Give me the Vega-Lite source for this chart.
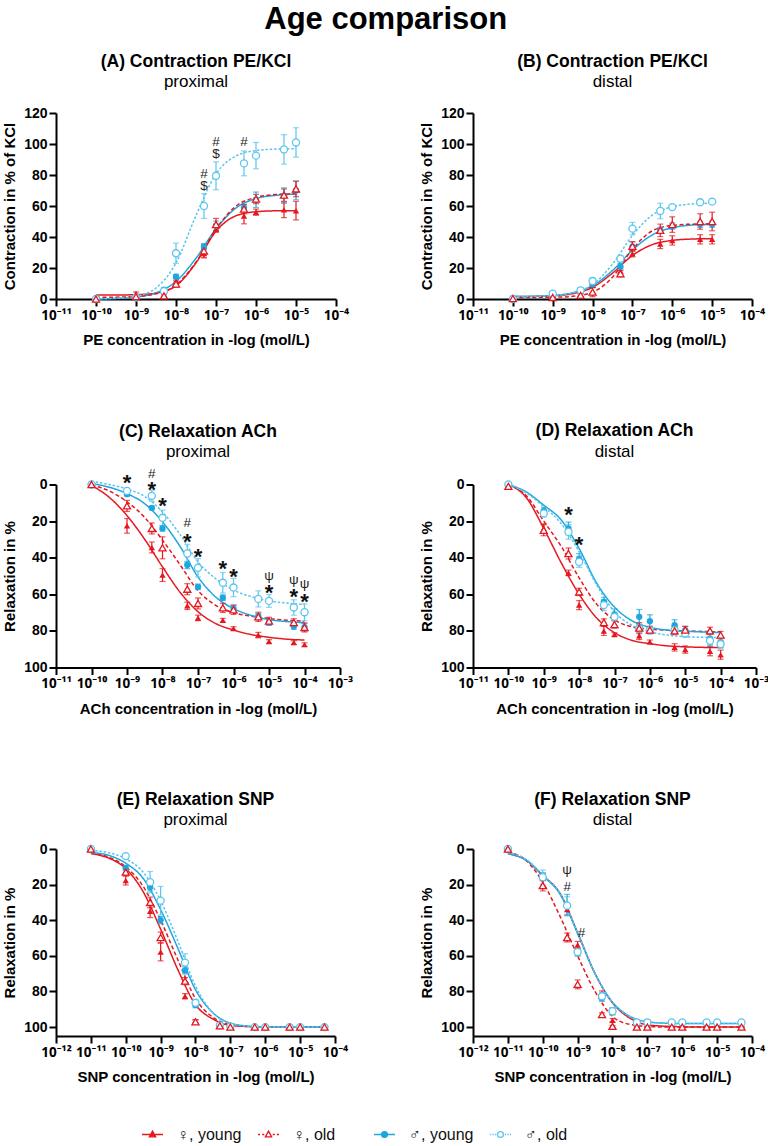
{
  "$schema": "https://vega.github.io/schema/vega-lite/v6.json",
  "padding": {"left": 2, "top": 4, "right": 0, "bottom": 2},
  "title": {"text": "Age comparison", "fontSize": 31, "fontWeight": "bold", "anchor": "middle", "frame": "bounds", "offset": 16.5, "color": "#000", "subtitle": ""},
  "spacing": 39,
  "resolve": {"scale": {"shape": "independent", "fill": "independent", "stroke": "independent", "x": "independent"}},
  "datasets": {
    "pts": [
      {"p":"A","g":"fy","c":1e-10,"v":0,"e":0.5},{"p":"A","g":"fy","c":1e-9,"v":3.5,"e":1},{"p":"A","g":"fy","c":5e-9,"v":3,"e":2},{"p":"A","g":"fy","c":1e-8,"v":11.5,"e":2},{"p":"A","g":"fy","c":5e-8,"v":29.5,"e":3},{"p":"A","g":"fy","c":1e-7,"v":45,"e":2},{"p":"A","g":"fy","c":5e-7,"v":53.5,"e":5},{"p":"A","g":"fy","c":1e-6,"v":56,"e":2},{"p":"A","g":"fy","c":5e-6,"v":57.5,"e":5},{"p":"A","g":"fy","c":1e-5,"v":57,"e":6},
      {"p":"A","g":"my","c":1e-10,"v":0,"e":0.5},{"p":"A","g":"my","c":1e-9,"v":1,"e":0.5},{"p":"A","g":"my","c":5e-9,"v":6,"e":1},{"p":"A","g":"my","c":1e-8,"v":14.4,"e":1.5},{"p":"A","g":"my","c":5e-8,"v":33.8,"e":2},{"p":"A","g":"my","c":1e-7,"v":47.3,"e":3},{"p":"A","g":"my","c":5e-7,"v":59,"e":2},{"p":"A","g":"my","c":1e-6,"v":64,"e":5},{"p":"A","g":"my","c":5e-6,"v":66.7,"e":5},{"p":"A","g":"my","c":1e-5,"v":70,"e":6},
      {"p":"A","g":"mo","c":1e-10,"v":0,"e":0.5},{"p":"A","g":"mo","c":1e-9,"v":1,"e":1},{"p":"A","g":"mo","c":5e-9,"v":5,"e":1.5},{"p":"A","g":"mo","c":1e-8,"v":29.5,"e":6.5},{"p":"A","g":"mo","c":5e-8,"v":60,"e":8},{"p":"A","g":"mo","c":1e-7,"v":79.5,"e":9},{"p":"A","g":"mo","c":5e-7,"v":87.5,"e":8},{"p":"A","g":"mo","c":1e-6,"v":92.5,"e":8.5},{"p":"A","g":"mo","c":5e-6,"v":96.5,"e":9.5},{"p":"A","g":"mo","c":1e-5,"v":101,"e":9.5},
      {"p":"A","g":"fo","c":1e-10,"v":0,"e":0.5},{"p":"A","g":"fo","c":1e-9,"v":1.5,"e":1},{"p":"A","g":"fo","c":5e-9,"v":2,"e":1},{"p":"A","g":"fo","c":1e-8,"v":9.7,"e":2},{"p":"A","g":"fo","c":5e-8,"v":31,"e":4},{"p":"A","g":"fo","c":1e-7,"v":48,"e":4},{"p":"A","g":"fo","c":5e-7,"v":58,"e":3},{"p":"A","g":"fo","c":1e-6,"v":64.5,"e":3},{"p":"A","g":"fo","c":5e-6,"v":67,"e":4},{"p":"A","g":"fo","c":1e-5,"v":71,"e":5},

      {"p":"B","g":"fy","c":1e-10,"v":0,"e":0.5},{"p":"B","g":"fy","c":1e-9,"v":1,"e":0.5},{"p":"B","g":"fy","c":5e-9,"v":2.4,"e":1},{"p":"B","g":"fy","c":1e-8,"v":8.8,"e":1.5},{"p":"B","g":"fy","c":5e-8,"v":18,"e":2},{"p":"B","g":"fy","c":1e-7,"v":29.2,"e":2},{"p":"B","g":"fy","c":5e-7,"v":35.5,"e":3},{"p":"B","g":"fy","c":1e-6,"v":37.8,"e":3},{"p":"B","g":"fy","c":5e-6,"v":38.5,"e":3},{"p":"B","g":"fy","c":1e-5,"v":38.5,"e":3},
      {"p":"B","g":"my","c":1e-10,"v":0.5,"e":0.5},{"p":"B","g":"my","c":1e-9,"v":3.6,"e":1},{"p":"B","g":"my","c":5e-9,"v":5.6,"e":1},{"p":"B","g":"my","c":1e-8,"v":9.5,"e":1.5},{"p":"B","g":"my","c":5e-8,"v":20.9,"e":2},{"p":"B","g":"my","c":1e-7,"v":33.8,"e":3},{"p":"B","g":"my","c":5e-7,"v":44.3,"e":2},{"p":"B","g":"my","c":1e-6,"v":47,"e":2},{"p":"B","g":"my","c":5e-6,"v":48.2,"e":2},{"p":"B","g":"my","c":1e-5,"v":48.2,"e":2},
      {"p":"B","g":"mo","c":1e-10,"v":0,"e":0.5},{"p":"B","g":"mo","c":1e-9,"v":3.4,"e":1},{"p":"B","g":"mo","c":5e-9,"v":5.6,"e":1},{"p":"B","g":"mo","c":1e-8,"v":11.6,"e":2},{"p":"B","g":"mo","c":5e-8,"v":26,"e":2},{"p":"B","g":"mo","c":1e-7,"v":45.4,"e":4},{"p":"B","g":"mo","c":5e-7,"v":56.8,"e":5},{"p":"B","g":"mo","c":1e-6,"v":59.3,"e":1},{"p":"B","g":"mo","c":5e-6,"v":62.4,"e":1},{"p":"B","g":"mo","c":1e-5,"v":62.8,"e":1},
      {"p":"B","g":"fo","c":1e-10,"v":0.3,"e":0.5},{"p":"B","g":"fo","c":1e-9,"v":1,"e":0.5},{"p":"B","g":"fo","c":5e-9,"v":2.4,"e":1},{"p":"B","g":"fo","c":1e-8,"v":4.5,"e":3},{"p":"B","g":"fo","c":5e-8,"v":16.3,"e":2},{"p":"B","g":"fo","c":1e-7,"v":34,"e":3},{"p":"B","g":"fo","c":5e-7,"v":44.3,"e":4},{"p":"B","g":"fo","c":1e-6,"v":48,"e":5},{"p":"B","g":"fo","c":5e-6,"v":50,"e":5},{"p":"B","g":"fo","c":1e-5,"v":50,"e":6},

      {"p":"C","g":"fy","c":1e-10,"v":0,"e":0.5},{"p":"C","g":"fy","c":1e-9,"v":22.6,"e":4},{"p":"C","g":"fy","c":5e-9,"v":34.4,"e":3},{"p":"C","g":"fy","c":1e-8,"v":49.5,"e":3.5},{"p":"C","g":"fy","c":5e-8,"v":66.3,"e":2},{"p":"C","g":"fy","c":1e-7,"v":72.9,"e":1.5},{"p":"C","g":"fy","c":5e-7,"v":74.2,"e":1},{"p":"C","g":"fy","c":1e-6,"v":78.7,"e":1},{"p":"C","g":"fy","c":5e-6,"v":82.3,"e":1.5},{"p":"C","g":"fy","c":1e-5,"v":85.8,"e":1},{"p":"C","g":"fy","c":5e-5,"v":86.4,"e":1},{"p":"C","g":"fy","c":1e-4,"v":87.5,"e":1},
      {"p":"C","g":"my","c":1e-10,"v":0,"e":0.5},{"p":"C","g":"my","c":1e-9,"v":5.3,"e":1},{"p":"C","g":"my","c":5e-9,"v":12.8,"e":1},{"p":"C","g":"my","c":1e-8,"v":24,"e":1.5},{"p":"C","g":"my","c":5e-8,"v":44,"e":2},{"p":"C","g":"my","c":1e-7,"v":55.9,"e":1.5},{"p":"C","g":"my","c":5e-7,"v":61.9,"e":1.5},{"p":"C","g":"my","c":1e-6,"v":67.8,"e":2},{"p":"C","g":"my","c":5e-6,"v":72,"e":1.5},{"p":"C","g":"my","c":1e-5,"v":75.4,"e":1.5},{"p":"C","g":"my","c":5e-5,"v":77.6,"e":1.5},{"p":"C","g":"my","c":1e-4,"v":78,"e":2},
      {"p":"C","g":"mo","c":1e-10,"v":0,"e":0.5},{"p":"C","g":"mo","c":1e-9,"v":3.5,"e":1.5},{"p":"C","g":"mo","c":5e-9,"v":6.2,"e":3},{"p":"C","g":"mo","c":1e-8,"v":18.2,"e":4.2},{"p":"C","g":"mo","c":5e-8,"v":37.7,"e":5},{"p":"C","g":"mo","c":1e-7,"v":45.5,"e":5},{"p":"C","g":"mo","c":5e-7,"v":53.7,"e":5.6},{"p":"C","g":"mo","c":1e-6,"v":56.3,"e":5},{"p":"C","g":"mo","c":5e-6,"v":62.5,"e":4.4},{"p":"C","g":"mo","c":1e-5,"v":63.6,"e":3.5},{"p":"C","g":"mo","c":5e-5,"v":67.2,"e":4.2},{"p":"C","g":"mo","c":1e-4,"v":69.8,"e":4.6},
      {"p":"C","g":"fo","c":1e-10,"v":0,"e":0.5},{"p":"C","g":"fo","c":1e-9,"v":11.7,"e":3},{"p":"C","g":"fo","c":5e-9,"v":24,"e":3},{"p":"C","g":"fo","c":1e-8,"v":34.6,"e":6},{"p":"C","g":"fo","c":5e-8,"v":57.2,"e":3},{"p":"C","g":"fo","c":1e-7,"v":65,"e":3},{"p":"C","g":"fo","c":5e-7,"v":67.4,"e":2.5},{"p":"C","g":"fo","c":1e-6,"v":68.5,"e":2.5},{"p":"C","g":"fo","c":5e-6,"v":72.3,"e":2.5},{"p":"C","g":"fo","c":1e-5,"v":74.6,"e":2},{"p":"C","g":"fo","c":5e-5,"v":75.4,"e":2},{"p":"C","g":"fo","c":1e-4,"v":78.1,"e":2.5},

      {"p":"D","g":"fy","c":1e-10,"v":0,"e":0.5},{"p":"D","g":"fy","c":1e-9,"v":24,"e":2.5},{"p":"D","g":"fy","c":5e-9,"v":48.3,"e":1.5},{"p":"D","g":"fy","c":1e-8,"v":65.9,"e":2.5},{"p":"D","g":"fy","c":5e-8,"v":80,"e":2.5},{"p":"D","g":"fy","c":1e-7,"v":82,"e":1},{"p":"D","g":"fy","c":5e-7,"v":82.7,"e":2},{"p":"D","g":"fy","c":1e-6,"v":86,"e":1},{"p":"D","g":"fy","c":5e-6,"v":89,"e":2},{"p":"D","g":"fy","c":1e-5,"v":90.2,"e":2},{"p":"D","g":"fy","c":5e-5,"v":91.1,"e":2.5},{"p":"D","g":"fy","c":1e-4,"v":93,"e":2.5},
      {"p":"D","g":"my","c":1e-10,"v":0,"e":0.5},{"p":"D","g":"my","c":1e-9,"v":14.4,"e":2},{"p":"D","g":"my","c":5e-9,"v":24,"e":3.5},{"p":"D","g":"my","c":1e-8,"v":40.8,"e":3},{"p":"D","g":"my","c":5e-8,"v":64.1,"e":2.5},{"p":"D","g":"my","c":1e-7,"v":71,"e":3},{"p":"D","g":"my","c":5e-7,"v":72.3,"e":4},{"p":"D","g":"my","c":1e-6,"v":74.7,"e":3.5},{"p":"D","g":"my","c":5e-6,"v":76.9,"e":3},{"p":"D","g":"my","c":1e-5,"v":79.6,"e":2},{"p":"D","g":"my","c":5e-5,"v":84.2,"e":4},{"p":"D","g":"my","c":1e-4,"v":86.3,"e":3},
      {"p":"D","g":"mo","c":1e-10,"v":0,"e":0.5},{"p":"D","g":"mo","c":1e-9,"v":15.8,"e":2},{"p":"D","g":"mo","c":5e-9,"v":25.9,"e":4},{"p":"D","g":"mo","c":1e-8,"v":42.3,"e":3},{"p":"D","g":"mo","c":5e-8,"v":65.9,"e":3},{"p":"D","g":"mo","c":1e-7,"v":72.3,"e":2},{"p":"D","g":"mo","c":5e-7,"v":78.7,"e":2},{"p":"D","g":"mo","c":1e-6,"v":79.6,"e":2},{"p":"D","g":"mo","c":5e-6,"v":79.6,"e":2},{"p":"D","g":"mo","c":1e-5,"v":81.4,"e":2},{"p":"D","g":"mo","c":5e-5,"v":85.4,"e":2},{"p":"D","g":"mo","c":1e-4,"v":87.2,"e":2},
      {"p":"D","g":"fo","c":1e-10,"v":1,"e":0.5},{"p":"D","g":"fo","c":1e-9,"v":25,"e":3},{"p":"D","g":"fo","c":5e-9,"v":37.7,"e":3},{"p":"D","g":"fo","c":1e-8,"v":58.7,"e":2},{"p":"D","g":"fo","c":5e-8,"v":75.4,"e":2},{"p":"D","g":"fo","c":1e-7,"v":76.5,"e":2},{"p":"D","g":"fo","c":5e-7,"v":78.5,"e":3},{"p":"D","g":"fo","c":1e-6,"v":79.5,"e":2},{"p":"D","g":"fo","c":5e-6,"v":80,"e":2},{"p":"D","g":"fo","c":1e-5,"v":79.5,"e":2},{"p":"D","g":"fo","c":5e-5,"v":80,"e":2},{"p":"D","g":"fo","c":1e-4,"v":82.3,"e":2},

      {"p":"E","g":"fy","c":1e-11,"v":0,"e":0.5},{"p":"E","g":"fy","c":1e-10,"v":17.7,"e":2.5},{"p":"E","g":"fy","c":5e-10,"v":35,"e":3.5},{"p":"E","g":"fy","c":1e-9,"v":57.8,"e":5},{"p":"E","g":"fy","c":5e-9,"v":82.7,"e":1.5},{"p":"E","g":"fy","c":1e-8,"v":96.8,"e":1},{"p":"E","g":"fy","c":5e-8,"v":99.3,"e":0.5},{"p":"E","g":"fy","c":1e-7,"v":99.6,"e":0.5},{"p":"E","g":"fy","c":5e-7,"v":100,"e":0.3},{"p":"E","g":"fy","c":1e-6,"v":100,"e":0.3},{"p":"E","g":"fy","c":5e-6,"v":100,"e":0.3},{"p":"E","g":"fy","c":1e-5,"v":100,"e":0.3},{"p":"E","g":"fy","c":5e-5,"v":100,"e":0.3},
      {"p":"E","g":"my","c":1e-11,"v":0,"e":0.5},{"p":"E","g":"my","c":1e-10,"v":10.7,"e":1.5},{"p":"E","g":"my","c":5e-10,"v":21.5,"e":2},{"p":"E","g":"my","c":1e-9,"v":39.9,"e":2},{"p":"E","g":"my","c":5e-9,"v":68.2,"e":2},{"p":"E","g":"my","c":1e-8,"v":87.6,"e":1.5},{"p":"E","g":"my","c":5e-8,"v":99,"e":0.5},{"p":"E","g":"my","c":1e-7,"v":99.6,"e":0.5},{"p":"E","g":"my","c":5e-7,"v":100,"e":0.3},{"p":"E","g":"my","c":1e-6,"v":100,"e":0.3},{"p":"E","g":"my","c":5e-6,"v":100,"e":0.3},{"p":"E","g":"my","c":1e-5,"v":100,"e":0.3},{"p":"E","g":"my","c":5e-5,"v":100,"e":0.3},
      {"p":"E","g":"mo","c":1e-11,"v":0,"e":0.5},{"p":"E","g":"mo","c":1e-10,"v":4,"e":1},{"p":"E","g":"mo","c":5e-10,"v":18.6,"e":6},{"p":"E","g":"mo","c":1e-9,"v":29,"e":8},{"p":"E","g":"mo","c":5e-9,"v":63.8,"e":5},{"p":"E","g":"mo","c":1e-8,"v":86.4,"e":2},{"p":"E","g":"mo","c":5e-8,"v":99,"e":0.5},{"p":"E","g":"mo","c":1e-7,"v":99.6,"e":0.5},{"p":"E","g":"mo","c":5e-7,"v":100,"e":0.3},{"p":"E","g":"mo","c":1e-6,"v":100,"e":0.3},{"p":"E","g":"mo","c":5e-6,"v":100,"e":0.3},{"p":"E","g":"mo","c":1e-5,"v":100,"e":0.3},{"p":"E","g":"mo","c":5e-5,"v":100,"e":0.3},
      {"p":"E","g":"fo","c":1e-11,"v":0,"e":0.5},{"p":"E","g":"fo","c":1e-10,"v":13,"e":2},{"p":"E","g":"fo","c":5e-10,"v":30,"e":3},{"p":"E","g":"fo","c":1e-9,"v":49.7,"e":3},{"p":"E","g":"fo","c":5e-9,"v":74.2,"e":2},{"p":"E","g":"fo","c":1e-8,"v":97,"e":1},{"p":"E","g":"fo","c":5e-8,"v":99.3,"e":0.5},{"p":"E","g":"fo","c":1e-7,"v":100,"e":0.3},{"p":"E","g":"fo","c":5e-7,"v":100,"e":0.3},{"p":"E","g":"fo","c":1e-6,"v":100,"e":0.3},{"p":"E","g":"fo","c":5e-6,"v":100,"e":0.3},{"p":"E","g":"fo","c":1e-5,"v":100,"e":0.3},{"p":"E","g":"fo","c":5e-5,"v":100,"e":0.3},

      {"p":"F","g":"fy","c":1e-11,"v":0,"e":0.5},{"p":"F","g":"fy","c":1e-10,"v":15.8,"e":2},{"p":"F","g":"fy","c":5e-10,"v":34,"e":3},{"p":"F","g":"fy","c":1e-9,"v":53.9,"e":2},{"p":"F","g":"fy","c":5e-9,"v":81.7,"e":2},{"p":"F","g":"fy","c":1e-8,"v":96.2,"e":1},{"p":"F","g":"fy","c":5e-8,"v":99.6,"e":0.5},{"p":"F","g":"fy","c":1e-7,"v":100,"e":0.3},{"p":"F","g":"fy","c":5e-7,"v":100,"e":0.3},{"p":"F","g":"fy","c":1e-6,"v":100,"e":0.3},{"p":"F","g":"fy","c":5e-6,"v":100,"e":0.3},{"p":"F","g":"fy","c":1e-5,"v":100,"e":0.3},{"p":"F","g":"fy","c":5e-5,"v":100,"e":0.3},
      {"p":"F","g":"my","c":1e-11,"v":0,"e":0.5},{"p":"F","g":"my","c":1e-10,"v":15.3,"e":2},{"p":"F","g":"my","c":5e-10,"v":31.5,"e":6},{"p":"F","g":"my","c":1e-9,"v":58.2,"e":2},{"p":"F","g":"my","c":5e-9,"v":83.6,"e":2},{"p":"F","g":"my","c":1e-8,"v":91.1,"e":2},{"p":"F","g":"my","c":5e-8,"v":97.7,"e":1},{"p":"F","g":"my","c":1e-7,"v":97.4,"e":1.5},{"p":"F","g":"my","c":5e-7,"v":97.7,"e":1},{"p":"F","g":"my","c":1e-6,"v":97.7,"e":1},{"p":"F","g":"my","c":5e-6,"v":97.7,"e":1},{"p":"F","g":"my","c":1e-5,"v":97.7,"e":1},{"p":"F","g":"my","c":5e-5,"v":97.7,"e":1},
      {"p":"F","g":"mo","c":1e-11,"v":0,"e":0.5},{"p":"F","g":"mo","c":1e-10,"v":15.8,"e":4},{"p":"F","g":"mo","c":5e-10,"v":31.8,"e":5},{"p":"F","g":"mo","c":1e-9,"v":57.8,"e":2},{"p":"F","g":"mo","c":5e-9,"v":82.7,"e":2},{"p":"F","g":"mo","c":1e-8,"v":91.1,"e":2},{"p":"F","g":"mo","c":5e-8,"v":97.4,"e":1},{"p":"F","g":"mo","c":1e-7,"v":97.4,"e":1},{"p":"F","g":"mo","c":5e-7,"v":97.4,"e":1},{"p":"F","g":"mo","c":1e-6,"v":97.4,"e":1},{"p":"F","g":"mo","c":5e-6,"v":97.4,"e":1},{"p":"F","g":"mo","c":1e-5,"v":97.4,"e":1},{"p":"F","g":"mo","c":5e-5,"v":97.4,"e":1},
      {"p":"F","g":"fo","c":1e-11,"v":0,"e":0.5},{"p":"F","g":"fo","c":1e-10,"v":20.5,"e":3},{"p":"F","g":"fo","c":5e-10,"v":49.7,"e":2.5},{"p":"F","g":"fo","c":1e-9,"v":76,"e":2.5},{"p":"F","g":"fo","c":5e-9,"v":93,"e":1},{"p":"F","g":"fo","c":1e-8,"v":99.6,"e":0.5},{"p":"F","g":"fo","c":5e-8,"v":100,"e":0.3},{"p":"F","g":"fo","c":1e-7,"v":100,"e":0.3},{"p":"F","g":"fo","c":5e-7,"v":100,"e":0.3},{"p":"F","g":"fo","c":1e-6,"v":100,"e":0.3},{"p":"F","g":"fo","c":5e-6,"v":100,"e":0.3},{"p":"F","g":"fo","c":1e-5,"v":100,"e":0.3},{"p":"F","g":"fo","c":5e-5,"v":100,"e":0.3}
    ],
    "fit": [
      {"p":"A","g":"fy","c":1e-10,"v":2.5},{"p":"A","g":"fy","c":3.16e-10,"v":2.55},{"p":"A","g":"fy","c":1e-9,"v":2.8},{"p":"A","g":"fy","c":3.16e-9,"v":3.8},{"p":"A","g":"fy","c":1e-8,"v":8.5},{"p":"A","g":"fy","c":3.16e-8,"v":23.3},{"p":"A","g":"fy","c":1e-7,"v":43.7},{"p":"A","g":"fy","c":3.16e-7,"v":53.7},{"p":"A","g":"fy","c":1e-6,"v":56.3},{"p":"A","g":"fy","c":3.16e-6,"v":56.9},{"p":"A","g":"fy","c":1e-5,"v":57},
      {"p":"A","g":"my","c":1e-10,"v":0.1},{"p":"A","g":"my","c":3.16e-10,"v":0.4},{"p":"A","g":"my","c":1e-9,"v":1.3},{"p":"A","g":"my","c":3.16e-9,"v":4},{"p":"A","g":"my","c":1e-8,"v":11.3},{"p":"A","g":"my","c":3.16e-8,"v":26.3},{"p":"A","g":"my","c":1e-7,"v":45.3},{"p":"A","g":"my","c":3.16e-7,"v":58.7},{"p":"A","g":"my","c":1e-6,"v":64.8},{"p":"A","g":"my","c":3.16e-6,"v":66.9},{"p":"A","g":"my","c":1e-5,"v":67.7},
      {"p":"A","g":"fo","c":1e-10,"v":1.05},{"p":"A","g":"fo","c":3.16e-10,"v":1.2},{"p":"A","g":"fo","c":1e-9,"v":1.65},{"p":"A","g":"fo","c":3.16e-9,"v":3.35},{"p":"A","g":"fo","c":1e-8,"v":9.1},{"p":"A","g":"fo","c":3.16e-8,"v":23.8},{"p":"A","g":"fo","c":1e-7,"v":45.2},{"p":"A","g":"fo","c":3.16e-7,"v":59.9},{"p":"A","g":"fo","c":1e-6,"v":65.6},{"p":"A","g":"fo","c":3.16e-6,"v":67.4},{"p":"A","g":"fo","c":1e-5,"v":67.9},
      {"p":"A","g":"mo","c":1e-10,"v":0.1},{"p":"A","g":"mo","c":3.16e-10,"v":0.5},{"p":"A","g":"mo","c":1e-9,"v":1.9},{"p":"A","g":"mo","c":3.16e-9,"v":7.1},{"p":"A","g":"mo","c":1e-8,"v":23.2},{"p":"A","g":"mo","c":3.16e-8,"v":53.8},{"p":"A","g":"mo","c":1e-7,"v":80.7},{"p":"A","g":"mo","c":3.16e-7,"v":92.3},{"p":"A","g":"mo","c":1e-6,"v":95.8},{"p":"A","g":"mo","c":3.16e-6,"v":96.7},{"p":"A","g":"mo","c":1e-5,"v":96.9},

      {"p":"B","g":"fy","c":1e-10,"v":1.54},{"p":"B","g":"fy","c":3.16e-10,"v":1.66},{"p":"B","g":"fy","c":1e-9,"v":2.07},{"p":"B","g":"fy","c":3.16e-9,"v":3.43},{"p":"B","g":"fy","c":1e-8,"v":7.56},{"p":"B","g":"fy","c":3.16e-8,"v":16.7},{"p":"B","g":"fy","c":1e-7,"v":28.1},{"p":"B","g":"fy","c":3.16e-7,"v":35.1},{"p":"B","g":"fy","c":1e-6,"v":37.8},{"p":"B","g":"fy","c":3.16e-6,"v":38.7},{"p":"B","g":"fy","c":1e-5,"v":38.95},
      {"p":"B","g":"my","c":1e-10,"v":1.58},{"p":"B","g":"my","c":3.16e-10,"v":1.76},{"p":"B","g":"my","c":1e-9,"v":2.32},{"p":"B","g":"my","c":3.16e-9,"v":4},{"p":"B","g":"my","c":1e-8,"v":8.6},{"p":"B","g":"my","c":3.16e-8,"v":18.4},{"p":"B","g":"my","c":1e-7,"v":31.6},{"p":"B","g":"my","c":3.16e-7,"v":41.4},{"p":"B","g":"my","c":1e-6,"v":46},{"p":"B","g":"my","c":3.16e-6,"v":47.7},{"p":"B","g":"my","c":1e-5,"v":48.2},
      {"p":"B","g":"fo","c":1e-10,"v":1},{"p":"B","g":"fo","c":3.16e-10,"v":1.03},{"p":"B","g":"fo","c":1e-9,"v":1.14},{"p":"B","g":"fo","c":3.16e-9,"v":1.7},{"p":"B","g":"fo","c":1e-8,"v":4.35},{"p":"B","g":"fo","c":3.16e-8,"v":14.1},{"p":"B","g":"fo","c":1e-7,"v":32.1},{"p":"B","g":"fo","c":3.16e-7,"v":44},{"p":"B","g":"fo","c":1e-6,"v":47.5},{"p":"B","g":"fo","c":3.16e-6,"v":48.3},{"p":"B","g":"fo","c":1e-5,"v":48.5},
      {"p":"B","g":"mo","c":1e-10,"v":1.56},{"p":"B","g":"mo","c":3.16e-10,"v":1.7},{"p":"B","g":"mo","c":1e-9,"v":2.2},{"p":"B","g":"mo","c":3.16e-9,"v":3.95},{"p":"B","g":"mo","c":1e-8,"v":9.4},{"p":"B","g":"mo","c":3.16e-8,"v":22.5},{"p":"B","g":"mo","c":1e-7,"v":41},{"p":"B","g":"mo","c":3.16e-7,"v":54.1},{"p":"B","g":"mo","c":1e-6,"v":59.5},{"p":"B","g":"mo","c":3.16e-6,"v":61.3},{"p":"B","g":"mo","c":1e-5,"v":61.8},

      {"p":"C","g":"fy","c":1e-10,"v":0.5},{"p":"C","g":"fy","c":3.16e-10,"v":7},{"p":"C","g":"fy","c":1e-9,"v":17},{"p":"C","g":"fy","c":3.16e-9,"v":30},{"p":"C","g":"fy","c":1e-8,"v":45},{"p":"C","g":"fy","c":3.16e-8,"v":59},{"p":"C","g":"fy","c":1e-7,"v":69.5},{"p":"C","g":"fy","c":3.16e-7,"v":76},{"p":"C","g":"fy","c":1e-6,"v":79.5},{"p":"C","g":"fy","c":3.16e-6,"v":82},{"p":"C","g":"fy","c":1e-5,"v":83.5},{"p":"C","g":"fy","c":3.16e-5,"v":84.5},{"p":"C","g":"fy","c":1e-4,"v":85},
      {"p":"C","g":"fo","c":1e-10,"v":0.3},{"p":"C","g":"fo","c":3.16e-10,"v":3.5},{"p":"C","g":"fo","c":1e-9,"v":9.5},{"p":"C","g":"fo","c":3.16e-9,"v":18},{"p":"C","g":"fo","c":1e-8,"v":30.4},{"p":"C","g":"fo","c":3.16e-8,"v":44},{"p":"C","g":"fo","c":1e-7,"v":58},{"p":"C","g":"fo","c":3.16e-7,"v":66},{"p":"C","g":"fo","c":1e-6,"v":70},{"p":"C","g":"fo","c":3.16e-6,"v":72},{"p":"C","g":"fo","c":1e-5,"v":73.3},{"p":"C","g":"fo","c":3.16e-5,"v":74.2},{"p":"C","g":"fo","c":1e-4,"v":74.7},
      {"p":"C","g":"my","c":1e-10,"v":-0.5},{"p":"C","g":"my","c":3.16e-10,"v":1.5},{"p":"C","g":"my","c":1e-9,"v":5},{"p":"C","g":"my","c":3.16e-9,"v":10.5},{"p":"C","g":"my","c":1e-8,"v":20.4},{"p":"C","g":"my","c":3.16e-8,"v":34},{"p":"C","g":"my","c":1e-7,"v":50.5},{"p":"C","g":"my","c":3.16e-7,"v":61.5},{"p":"C","g":"my","c":1e-6,"v":67.8},{"p":"C","g":"my","c":3.16e-6,"v":71.5},{"p":"C","g":"my","c":1e-5,"v":73.8},{"p":"C","g":"my","c":3.16e-5,"v":74.9},{"p":"C","g":"my","c":1e-4,"v":75.5},
      {"p":"C","g":"mo","c":1e-10,"v":-1.8},{"p":"C","g":"mo","c":3.16e-10,"v":0},{"p":"C","g":"mo","c":1e-9,"v":2.5},{"p":"C","g":"mo","c":3.16e-9,"v":6.5},{"p":"C","g":"mo","c":1e-8,"v":15},{"p":"C","g":"mo","c":3.16e-8,"v":27.5},{"p":"C","g":"mo","c":1e-7,"v":42.3},{"p":"C","g":"mo","c":3.16e-7,"v":51.5},{"p":"C","g":"mo","c":1e-6,"v":57.7},{"p":"C","g":"mo","c":3.16e-6,"v":61.3},{"p":"C","g":"mo","c":1e-5,"v":63.6},{"p":"C","g":"mo","c":3.16e-5,"v":64.8},{"p":"C","g":"mo","c":1e-4,"v":65.6},

      {"p":"D","g":"fy","c":1e-10,"v":0},{"p":"D","g":"fy","c":3.16e-10,"v":7},{"p":"D","g":"fy","c":1e-9,"v":24},{"p":"D","g":"fy","c":3.16e-9,"v":43},{"p":"D","g":"fy","c":1e-8,"v":60},{"p":"D","g":"fy","c":3.16e-8,"v":73},{"p":"D","g":"fy","c":1e-7,"v":81},{"p":"D","g":"fy","c":3.16e-7,"v":85.2},{"p":"D","g":"fy","c":1e-6,"v":87},{"p":"D","g":"fy","c":3.16e-6,"v":88.2},{"p":"D","g":"fy","c":1e-5,"v":88.7},{"p":"D","g":"fy","c":3.16e-5,"v":89},{"p":"D","g":"fy","c":1e-4,"v":89.1},
      {"p":"D","g":"fo","c":1e-10,"v":0},{"p":"D","g":"fo","c":3.16e-10,"v":6},{"p":"D","g":"fo","c":1e-9,"v":20},{"p":"D","g":"fo","c":3.16e-9,"v":34},{"p":"D","g":"fo","c":1e-8,"v":51},{"p":"D","g":"fo","c":3.16e-8,"v":65.5},{"p":"D","g":"fo","c":1e-7,"v":74},{"p":"D","g":"fo","c":3.16e-7,"v":77.8},{"p":"D","g":"fo","c":1e-6,"v":79},{"p":"D","g":"fo","c":3.16e-6,"v":79.7},{"p":"D","g":"fo","c":1e-5,"v":80},{"p":"D","g":"fo","c":3.16e-5,"v":80.3},{"p":"D","g":"fo","c":1e-4,"v":80.5},
      {"p":"D","g":"my","c":1e-10,"v":0},{"p":"D","g":"my","c":3.16e-10,"v":4},{"p":"D","g":"my","c":1e-9,"v":11.3},{"p":"D","g":"my","c":3.16e-9,"v":19.5},{"p":"D","g":"my","c":1e-8,"v":35},{"p":"D","g":"my","c":3.16e-8,"v":54},{"p":"D","g":"my","c":1e-7,"v":67},{"p":"D","g":"my","c":3.16e-7,"v":74.5},{"p":"D","g":"my","c":1e-6,"v":78},{"p":"D","g":"my","c":3.16e-6,"v":79.6},{"p":"D","g":"my","c":1e-5,"v":80.2},{"p":"D","g":"my","c":3.16e-5,"v":80.6},{"p":"D","g":"my","c":1e-4,"v":80.9},
      {"p":"D","g":"mo","c":1e-10,"v":0},{"p":"D","g":"mo","c":3.16e-10,"v":4.5},{"p":"D","g":"mo","c":1e-9,"v":12.2},{"p":"D","g":"mo","c":3.16e-9,"v":21.5},{"p":"D","g":"mo","c":1e-8,"v":36.8},{"p":"D","g":"mo","c":3.16e-8,"v":55},{"p":"D","g":"mo","c":1e-7,"v":69.6},{"p":"D","g":"mo","c":3.16e-7,"v":77},{"p":"D","g":"mo","c":1e-6,"v":80.5},{"p":"D","g":"mo","c":3.16e-6,"v":82.3},{"p":"D","g":"mo","c":1e-5,"v":83.2},{"p":"D","g":"mo","c":3.16e-5,"v":83.5},{"p":"D","g":"mo","c":1e-4,"v":83.6},

      {"p":"E","g":"fy","c":1e-11,"v":2.6},{"p":"E","g":"fy","c":3.16e-11,"v":5},{"p":"E","g":"fy","c":1e-10,"v":11},{"p":"E","g":"fy","c":3.16e-10,"v":24},{"p":"E","g":"fy","c":1e-9,"v":45},{"p":"E","g":"fy","c":3.16e-9,"v":68},{"p":"E","g":"fy","c":1e-8,"v":87.4},{"p":"E","g":"fy","c":3.16e-8,"v":95.5},{"p":"E","g":"fy","c":1e-7,"v":99},{"p":"E","g":"fy","c":3.16e-7,"v":99.7},{"p":"E","g":"fy","c":1e-6,"v":100},{"p":"E","g":"fy","c":3.16e-6,"v":100},{"p":"E","g":"fy","c":1e-5,"v":100},{"p":"E","g":"fy","c":3.16e-5,"v":100},{"p":"E","g":"fy","c":5e-5,"v":100},
      {"p":"E","g":"fo","c":1e-11,"v":2.3},{"p":"E","g":"fo","c":3.16e-11,"v":4.5},{"p":"E","g":"fo","c":1e-10,"v":10},{"p":"E","g":"fo","c":3.16e-10,"v":21},{"p":"E","g":"fo","c":1e-9,"v":40},{"p":"E","g":"fo","c":3.16e-9,"v":62.5},{"p":"E","g":"fo","c":1e-8,"v":84},{"p":"E","g":"fo","c":3.16e-8,"v":94.5},{"p":"E","g":"fo","c":1e-7,"v":98.5},{"p":"E","g":"fo","c":3.16e-7,"v":99.6},{"p":"E","g":"fo","c":1e-6,"v":100},{"p":"E","g":"fo","c":3.16e-6,"v":100},{"p":"E","g":"fo","c":1e-5,"v":100},{"p":"E","g":"fo","c":3.16e-5,"v":100},{"p":"E","g":"fo","c":5e-5,"v":100},
      {"p":"E","g":"my","c":1e-11,"v":2},{"p":"E","g":"my","c":3.16e-11,"v":3.5},{"p":"E","g":"my","c":1e-10,"v":8},{"p":"E","g":"my","c":3.16e-10,"v":16.5},{"p":"E","g":"my","c":1e-9,"v":34},{"p":"E","g":"my","c":3.16e-9,"v":56},{"p":"E","g":"my","c":1e-8,"v":79},{"p":"E","g":"my","c":3.16e-8,"v":92},{"p":"E","g":"my","c":1e-7,"v":97.8},{"p":"E","g":"my","c":3.16e-7,"v":99.4},{"p":"E","g":"my","c":1e-6,"v":99.9},{"p":"E","g":"my","c":3.16e-6,"v":100},{"p":"E","g":"my","c":1e-5,"v":100},{"p":"E","g":"my","c":3.16e-5,"v":100},{"p":"E","g":"my","c":5e-5,"v":100},
      {"p":"E","g":"mo","c":1e-11,"v":0.8},{"p":"E","g":"mo","c":3.16e-11,"v":2},{"p":"E","g":"mo","c":1e-10,"v":5.5},{"p":"E","g":"mo","c":3.16e-10,"v":13},{"p":"E","g":"mo","c":1e-9,"v":29},{"p":"E","g":"mo","c":3.16e-9,"v":52},{"p":"E","g":"mo","c":1e-8,"v":77},{"p":"E","g":"mo","c":3.16e-8,"v":92},{"p":"E","g":"mo","c":1e-7,"v":98},{"p":"E","g":"mo","c":3.16e-7,"v":99.5},{"p":"E","g":"mo","c":1e-6,"v":100},{"p":"E","g":"mo","c":3.16e-6,"v":100},{"p":"E","g":"mo","c":1e-5,"v":100},{"p":"E","g":"mo","c":3.16e-5,"v":100},{"p":"E","g":"mo","c":5e-5,"v":100},

      {"p":"F","g":"fy","c":1e-11,"v":2.6},{"p":"F","g":"fy","c":3.16e-11,"v":6},{"p":"F","g":"fy","c":1e-10,"v":14.9},{"p":"F","g":"fy","c":3.16e-10,"v":25},{"p":"F","g":"fy","c":1e-9,"v":47},{"p":"F","g":"fy","c":3.16e-9,"v":70},{"p":"F","g":"fy","c":1e-8,"v":86.4},{"p":"F","g":"fy","c":3.16e-8,"v":95},{"p":"F","g":"fy","c":1e-7,"v":98.7},{"p":"F","g":"fy","c":3.16e-7,"v":99.5},{"p":"F","g":"fy","c":1e-6,"v":99.8},{"p":"F","g":"fy","c":3.16e-6,"v":100},{"p":"F","g":"fy","c":1e-5,"v":100},{"p":"F","g":"fy","c":3.16e-5,"v":100},{"p":"F","g":"fy","c":5e-5,"v":100},
      {"p":"F","g":"fo","c":1e-11,"v":1.7},{"p":"F","g":"fo","c":3.16e-11,"v":6},{"p":"F","g":"fo","c":1e-10,"v":18.6},{"p":"F","g":"fo","c":3.16e-10,"v":38},{"p":"F","g":"fo","c":1e-9,"v":60},{"p":"F","g":"fo","c":3.16e-9,"v":80},{"p":"F","g":"fo","c":1e-8,"v":94},{"p":"F","g":"fo","c":3.16e-8,"v":98.5},{"p":"F","g":"fo","c":1e-7,"v":99.6},{"p":"F","g":"fo","c":3.16e-7,"v":100},{"p":"F","g":"fo","c":1e-6,"v":100},{"p":"F","g":"fo","c":3.16e-6,"v":100},{"p":"F","g":"fo","c":1e-5,"v":100},{"p":"F","g":"fo","c":3.16e-5,"v":100},{"p":"F","g":"fo","c":5e-5,"v":100},
      {"p":"F","g":"my","c":1e-11,"v":2.6},{"p":"F","g":"my","c":3.16e-11,"v":6},{"p":"F","g":"my","c":1e-10,"v":15},{"p":"F","g":"my","c":3.16e-10,"v":25.5},{"p":"F","g":"my","c":1e-9,"v":47.5},{"p":"F","g":"my","c":3.16e-9,"v":70},{"p":"F","g":"my","c":1e-8,"v":86},{"p":"F","g":"my","c":3.16e-8,"v":94},{"p":"F","g":"my","c":1e-7,"v":97},{"p":"F","g":"my","c":3.16e-7,"v":97.8},{"p":"F","g":"my","c":1e-6,"v":98},{"p":"F","g":"my","c":3.16e-6,"v":98},{"p":"F","g":"my","c":1e-5,"v":98},{"p":"F","g":"my","c":3.16e-5,"v":98},{"p":"F","g":"my","c":5e-5,"v":98},
      {"p":"F","g":"mo","c":1e-11,"v":2},{"p":"F","g":"mo","c":3.16e-11,"v":5.5},{"p":"F","g":"mo","c":1e-10,"v":14.5},{"p":"F","g":"mo","c":3.16e-10,"v":25},{"p":"F","g":"mo","c":1e-9,"v":47},{"p":"F","g":"mo","c":3.16e-9,"v":70},{"p":"F","g":"mo","c":1e-8,"v":86},{"p":"F","g":"mo","c":3.16e-8,"v":94},{"p":"F","g":"mo","c":1e-7,"v":97},{"p":"F","g":"mo","c":3.16e-7,"v":97.8},{"p":"F","g":"mo","c":1e-6,"v":98},{"p":"F","g":"mo","c":3.16e-6,"v":98},{"p":"F","g":"mo","c":1e-5,"v":98},{"p":"F","g":"mo","c":3.16e-5,"v":98},{"p":"F","g":"mo","c":5e-5,"v":98}
    ],
    "ann": [
      {"p":"A","c":5e-8,"v":80.8,"t":"#"},{"p":"A","c":5e-8,"v":72.9,"t":"$"},{"p":"A","c":1e-7,"v":101.5,"t":"#"},{"p":"A","c":1e-7,"v":93.3,"t":"$"},{"p":"A","c":5e-7,"v":101.5,"t":"#"},
      {"p":"C","c":1e-9,"v":-3.6,"t":"*"},{"p":"C","c":5e-9,"v":0.4,"t":"*"},{"p":"C","c":5e-9,"v":-5.5,"t":"#"},{"p":"C","c":1e-8,"v":8.9,"t":"*"},{"p":"C","c":5e-8,"v":28.6,"t":"*"},{"p":"C","c":5e-8,"v":21,"t":"#"},{"p":"C","c":1e-7,"v":36.8,"t":"*"},{"p":"C","c":5e-7,"v":43.5,"t":"*"},{"p":"C","c":1e-6,"v":48,"t":"*"},{"p":"C","c":1e-5,"v":56.8,"t":"*"},{"p":"C","c":1e-5,"v":50,"t":"ψ"},{"p":"C","c":5e-5,"v":59,"t":"*"},{"p":"C","c":5e-5,"v":52.3,"t":"ψ"},{"p":"C","c":1e-4,"v":61.4,"t":"*"},{"p":"C","c":1e-4,"v":54.6,"t":"ψ"},
      {"p":"D","c":5e-9,"v":14,"t":"*"},{"p":"D","c":1e-8,"v":30.4,"t":"*"},
      {"p":"F","c":5e-10,"v":12,"t":"ψ"},{"p":"F","c":5e-10,"v":21.5,"t":"#"},{"p":"F","c":1.3e-9,"v":46.9,"t":"#"}
    ],
    "key": [
      {"g":"fy","lab":"♀, young"},{"g":"fo","lab":"♀, old"},{"g":"my","lab":"♂, young"},{"g":"mo","lab":"♂, old"}
    ]
  },
  "vconcat": [
    {
      "columns": 2,
      "spacing": {"row": 73.5, "column": 66},
      "concat": [
        {
          "width": 280, "height": 186,
          "title": {"text": "(A) Contraction PE/KCl", "subtitle": "proximal", "offset": 16},
          "encoding": {
            "x": {"field": "c", "type": "quantitative", "scale": {"type": "log", "domain": [1e-11, 1e-4], "nice": false},
                  "axis": {"title": "PE concentration in -log (mol/L)", "values": [1e-11,1e-10,1e-9,1e-8,1e-7,1e-6,1e-5,1e-4], "labelExpr": "'10' + ['⁻¹²','⁻¹¹','⁻¹⁰','⁻⁹','⁻⁸','⁻⁷','⁻⁶','⁻⁵','⁻⁴','⁻³'][round(log(datum.value)/LN10)+12]"}},
            "y": {"field": "v", "type": "quantitative", "scale": {"domain": [0, 120], "nice": false}, "axis": {"title": "Contraction in % of  KCl", "values": [0,20,40,60,80,100,120]}},
            "color": {"field": "g", "type": "nominal", "scale": {"domain": ["fy","fo","my","mo"], "range": ["#E5171F","#E5171F","#1DA7DF","#5BC5EE"]}}
          },
          "layer": [
            {"data": {"name": "fit"}, "transform": [{"filter": "datum.p == 'A'"}], "mark": {"type": "line", "interpolate": "monotone", "strokeWidth": 1.5},
             "encoding": {"strokeDash": {"field": "g", "type": "nominal", "scale": {"domain": ["fy","fo","my","mo"], "range": [[1,0],[4,2.5],[1,0],[2.5,1.8]]}}}},
            {"data": {"name": "pts"}, "transform": [{"filter": "datum.p == 'A'"}], "mark": {"type": "errorbar", "ticks": {"size": 6}, "thickness": 1.2}, "encoding": {"yError": {"field": "e"}}},
            {"data": {"name": "pts"}, "transform": [{"filter": "datum.p == 'A' && (datum.g == 'fy' || datum.g == 'my')"}], "mark": {"type": "point", "filled": true, "size": 40, "opacity": 1},
             "encoding": {"shape": {"field": "g", "type": "nominal", "scale": {"domain": ["fy","fo","my","mo"], "range": ["triangle-up","triangle-up","circle","circle"]}}}},
            {"data": {"name": "pts"}, "transform": [{"filter": "datum.p == 'A' && (datum.g == 'fo' || datum.g == 'mo')"}], "mark": {"type": "point", "filled": false, "fill": "#ffffff", "fillOpacity": 1, "strokeWidth": 1.3, "size": 50, "opacity": 1},
             "encoding": {"shape": {"field": "g", "type": "nominal"}}},
            {"data": {"name": "ann"}, "transform": [{"filter": "datum.p == 'A' && datum.t != '*'"}], "mark": {"type": "text", "fontSize": 13.5, "baseline": "middle"},
             "encoding": {"text": {"field": "t"}, "color": {"value": "#222"}}}
          ]
        },
        {
          "width": 279, "height": 186,
          "title": {"text": "(B) Contraction PE/KCl", "subtitle": "distal", "offset": 16},
          "encoding": {
            "x": {"field": "c", "type": "quantitative", "scale": {"type": "log", "domain": [1e-11, 1e-4], "nice": false},
                  "axis": {"title": "PE concentration in -log (mol/L)", "values": [1e-11,1e-10,1e-9,1e-8,1e-7,1e-6,1e-5,1e-4], "labelExpr": "'10' + ['⁻¹²','⁻¹¹','⁻¹⁰','⁻⁹','⁻⁸','⁻⁷','⁻⁶','⁻⁵','⁻⁴','⁻³'][round(log(datum.value)/LN10)+12]"}},
            "y": {"field": "v", "type": "quantitative", "scale": {"domain": [0, 120], "nice": false}, "axis": {"title": "Contraction in % of  KCl", "values": [0,20,40,60,80,100,120]}},
            "color": {"field": "g", "type": "nominal"}
          },
          "layer": [
            {"data": {"name": "fit"}, "transform": [{"filter": "datum.p == 'B'"}], "mark": {"type": "line", "interpolate": "monotone", "strokeWidth": 1.5},
             "encoding": {"strokeDash": {"field": "g", "type": "nominal"}}},
            {"data": {"name": "pts"}, "transform": [{"filter": "datum.p == 'B'"}], "mark": {"type": "errorbar", "ticks": {"size": 6}, "thickness": 1.2}, "encoding": {"yError": {"field": "e"}}},
            {"data": {"name": "pts"}, "transform": [{"filter": "datum.p == 'B' && (datum.g == 'fy' || datum.g == 'my')"}], "mark": {"type": "point", "filled": true, "size": 40, "opacity": 1},
             "encoding": {"shape": {"field": "g", "type": "nominal"}}},
            {"data": {"name": "pts"}, "transform": [{"filter": "datum.p == 'B' && (datum.g == 'fo' || datum.g == 'mo')"}], "mark": {"type": "point", "filled": false, "fill": "#ffffff", "fillOpacity": 1, "strokeWidth": 1.3, "size": 50, "opacity": 1},
             "encoding": {"shape": {"field": "g", "type": "nominal"}}}
          ]
        },
        {
          "width": 284, "height": 183,
          "title": {"text": "(C) Relaxation ACh", "subtitle": "proximal", "offset": 7},
          "encoding": {
            "x": {"field": "c", "type": "quantitative", "scale": {"type": "log", "domain": [1e-11, 1e-3], "nice": false},
                  "axis": {"title": "ACh concentration in -log (mol/L)", "values": [1e-11,1e-10,1e-9,1e-8,1e-7,1e-6,1e-5,1e-4,1e-3], "labelExpr": "'10' + ['⁻¹²','⁻¹¹','⁻¹⁰','⁻⁹','⁻⁸','⁻⁷','⁻⁶','⁻⁵','⁻⁴','⁻³'][round(log(datum.value)/LN10)+12]"}},
            "y": {"field": "v", "type": "quantitative", "scale": {"domain": [0, 100], "nice": false, "reverse": true}, "axis": {"title": "Relaxation in %", "values": [0,20,40,60,80,100]}},
            "color": {"field": "g", "type": "nominal"}
          },
          "layer": [
            {"data": {"name": "fit"}, "transform": [{"filter": "datum.p == 'C'"}], "mark": {"type": "line", "interpolate": "monotone", "strokeWidth": 1.5},
             "encoding": {"strokeDash": {"field": "g", "type": "nominal"}}},
            {"data": {"name": "pts"}, "transform": [{"filter": "datum.p == 'C'"}], "mark": {"type": "errorbar", "ticks": {"size": 6}, "thickness": 1.2}, "encoding": {"yError": {"field": "e"}}},
            {"data": {"name": "pts"}, "transform": [{"filter": "datum.p == 'C' && (datum.g == 'fy' || datum.g == 'my')"}], "mark": {"type": "point", "filled": true, "size": 40, "opacity": 1},
             "encoding": {"shape": {"field": "g", "type": "nominal"}}},
            {"data": {"name": "pts"}, "transform": [{"filter": "datum.p == 'C' && (datum.g == 'fo' || datum.g == 'mo')"}], "mark": {"type": "point", "filled": false, "fill": "#ffffff", "fillOpacity": 1, "strokeWidth": 1.3, "size": 50, "opacity": 1},
             "encoding": {"shape": {"field": "g", "type": "nominal"}}},
            {"data": {"name": "ann"}, "transform": [{"filter": "datum.p == 'C' && datum.t == '*'"}], "mark": {"type": "text", "fontSize": 22, "fontWeight": "bold", "baseline": "alphabetic", "dy": 12},
             "encoding": {"text": {"field": "t"}, "color": {"value": "#111"}}},
            {"data": {"name": "ann"}, "transform": [{"filter": "datum.p == 'C' && datum.t != '*'"}], "mark": {"type": "text", "fontSize": 13.5, "baseline": "middle"},
             "encoding": {"text": {"field": "t"}, "color": {"value": "#222"}}}
          ]
        },
        {
          "width": 283, "height": 183,
          "title": {"text": "(D) Relaxation ACh", "subtitle": "distal", "offset": 18},
          "encoding": {
            "x": {"field": "c", "type": "quantitative", "scale": {"type": "log", "domain": [1e-11, 1e-3], "nice": false},
                  "axis": {"title": "ACh concentration in -log (mol/L)", "values": [1e-11,1e-10,1e-9,1e-8,1e-7,1e-6,1e-5,1e-4,1e-3], "labelExpr": "'10' + ['⁻¹²','⁻¹¹','⁻¹⁰','⁻⁹','⁻⁸','⁻⁷','⁻⁶','⁻⁵','⁻⁴','⁻³'][round(log(datum.value)/LN10)+12]"}},
            "y": {"field": "v", "type": "quantitative", "scale": {"domain": [0, 100], "nice": false, "reverse": true}, "axis": {"title": "Relaxation in %", "values": [0,20,40,60,80,100]}},
            "color": {"field": "g", "type": "nominal"}
          },
          "layer": [
            {"data": {"name": "fit"}, "transform": [{"filter": "datum.p == 'D'"}], "mark": {"type": "line", "interpolate": "monotone", "strokeWidth": 1.5},
             "encoding": {"strokeDash": {"field": "g", "type": "nominal"}}},
            {"data": {"name": "pts"}, "transform": [{"filter": "datum.p == 'D'"}], "mark": {"type": "errorbar", "ticks": {"size": 6}, "thickness": 1.2}, "encoding": {"yError": {"field": "e"}}},
            {"data": {"name": "pts"}, "transform": [{"filter": "datum.p == 'D' && (datum.g == 'fy' || datum.g == 'my')"}], "mark": {"type": "point", "filled": true, "size": 40, "opacity": 1},
             "encoding": {"shape": {"field": "g", "type": "nominal"}}},
            {"data": {"name": "pts"}, "transform": [{"filter": "datum.p == 'D' && (datum.g == 'fo' || datum.g == 'mo')"}], "mark": {"type": "point", "filled": false, "fill": "#ffffff", "fillOpacity": 1, "strokeWidth": 1.3, "size": 50, "opacity": 1},
             "encoding": {"shape": {"field": "g", "type": "nominal"}}},
            {"data": {"name": "ann"}, "transform": [{"filter": "datum.p == 'D' && datum.t == '*'"}], "mark": {"type": "text", "fontSize": 22, "fontWeight": "bold", "baseline": "alphabetic", "dy": 12},
             "encoding": {"text": {"field": "t"}, "color": {"value": "#111"}}}
          ]
        },
        {
          "width": 279, "height": 187,
          "title": {"text": "(E) Relaxation SNP", "subtitle": "proximal", "offset": 14},
          "encoding": {
            "x": {"field": "c", "type": "quantitative", "scale": {"type": "log", "domain": [1e-12, 1e-4], "nice": false},
                  "axis": {"title": "SNP concentration in -log (mol/L)", "values": [1e-12,1e-11,1e-10,1e-9,1e-8,1e-7,1e-6,1e-5,1e-4], "labelExpr": "'10' + ['⁻¹²','⁻¹¹','⁻¹⁰','⁻⁹','⁻⁸','⁻⁷','⁻⁶','⁻⁵','⁻⁴','⁻³'][round(log(datum.value)/LN10)+12]"}},
            "y": {"field": "v", "type": "quantitative", "scale": {"domain": [0, 105], "nice": false, "reverse": true}, "axis": {"title": "Relaxation in %", "values": [0,20,40,60,80,100]}},
            "color": {"field": "g", "type": "nominal"}
          },
          "layer": [
            {"data": {"name": "fit"}, "transform": [{"filter": "datum.p == 'E'"}], "mark": {"type": "line", "interpolate": "monotone", "strokeWidth": 1.5},
             "encoding": {"strokeDash": {"field": "g", "type": "nominal"}}},
            {"data": {"name": "pts"}, "transform": [{"filter": "datum.p == 'E'"}], "mark": {"type": "errorbar", "ticks": {"size": 6}, "thickness": 1.2}, "encoding": {"yError": {"field": "e"}}},
            {"data": {"name": "pts"}, "transform": [{"filter": "datum.p == 'E' && (datum.g == 'fy' || datum.g == 'my')"}], "mark": {"type": "point", "filled": true, "size": 40, "opacity": 1},
             "encoding": {"shape": {"field": "g", "type": "nominal"}}},
            {"data": {"name": "pts"}, "transform": [{"filter": "datum.p == 'E' && (datum.g == 'fo' || datum.g == 'mo')"}], "mark": {"type": "point", "filled": false, "fill": "#ffffff", "fillOpacity": 1, "strokeWidth": 1.3, "size": 50, "opacity": 1},
             "encoding": {"shape": {"field": "g", "type": "nominal"}}}
          ]
        },
        {
          "width": 279, "height": 187,
          "title": {"text": "(F) Relaxation SNP", "subtitle": "distal", "offset": 14},
          "encoding": {
            "x": {"field": "c", "type": "quantitative", "scale": {"type": "log", "domain": [1e-12, 1e-4], "nice": false},
                  "axis": {"title": "SNP concentration in -log (mol/L)", "values": [1e-12,1e-11,1e-10,1e-9,1e-8,1e-7,1e-6,1e-5,1e-4], "labelExpr": "'10' + ['⁻¹²','⁻¹¹','⁻¹⁰','⁻⁹','⁻⁸','⁻⁷','⁻⁶','⁻⁵','⁻⁴','⁻³'][round(log(datum.value)/LN10)+12]"}},
            "y": {"field": "v", "type": "quantitative", "scale": {"domain": [0, 105], "nice": false, "reverse": true}, "axis": {"title": "Relaxation in %", "values": [0,20,40,60,80,100]}},
            "color": {"field": "g", "type": "nominal"}
          },
          "layer": [
            {"data": {"name": "fit"}, "transform": [{"filter": "datum.p == 'F'"}], "mark": {"type": "line", "interpolate": "monotone", "strokeWidth": 1.5},
             "encoding": {"strokeDash": {"field": "g", "type": "nominal"}}},
            {"data": {"name": "pts"}, "transform": [{"filter": "datum.p == 'F'"}], "mark": {"type": "errorbar", "ticks": {"size": 6}, "thickness": 1.2}, "encoding": {"yError": {"field": "e"}}},
            {"data": {"name": "pts"}, "transform": [{"filter": "datum.p == 'F' && (datum.g == 'fy' || datum.g == 'my')"}], "mark": {"type": "point", "filled": true, "size": 40, "opacity": 1},
             "encoding": {"shape": {"field": "g", "type": "nominal"}}},
            {"data": {"name": "pts"}, "transform": [{"filter": "datum.p == 'F' && (datum.g == 'fo' || datum.g == 'mo')"}], "mark": {"type": "point", "filled": false, "fill": "#ffffff", "fillOpacity": 1, "strokeWidth": 1.3, "size": 50, "opacity": 1},
             "encoding": {"shape": {"field": "g", "type": "nominal"}}},
            {"data": {"name": "ann"}, "transform": [{"filter": "datum.p == 'F'"}], "mark": {"type": "text", "fontSize": 13.5, "baseline": "middle"},
             "encoding": {"text": {"field": "t"}, "color": {"value": "#222"}}}
          ]
        }
      ]
    },
    {
      "width": 541, "height": 21,
      "data": {"name": "key"},
      "encoding": {
        "x": {"field": "g", "type": "nominal", "sort": null, "scale": {"type": "point", "domain": ["fy","fo","my","mo"], "padding": 0.832}, "axis": null}
      },
      "layer": [
        {"mark": {"type": "point", "size": 441, "strokeWidth": 1.3, "opacity": 1, "fillOpacity": 1},
         "encoding": {
           "shape": {"field": "g", "type": "nominal", "scale": {"domain": ["fy","fo","my","mo"], "range": [
             "M-1,0H1M0,-0.32L0.3,0.22L-0.3,0.22Z",
             "M-1,0H-0.8M-0.6,0H-0.4M0.4,0H0.6M0.8,0H1M0,-0.32L0.3,0.22L-0.3,0.22Z",
             "M-1,0H-0.28M0.28,0H1M0.28,0A0.28,0.28 0 1,1 -0.28,0A0.28,0.28 0 1,1 0.28,0Z",
             "M-1,0H-0.88M-0.76,0H-0.64M-0.52,0H-0.4M0.4,0H0.52M0.64,0H0.76M0.88,0H1M0.28,0A0.28,0.28 0 1,1 -0.28,0A0.28,0.28 0 1,1 0.28,0Z"]}},
           "fill": {"field": "g", "type": "nominal", "scale": {"domain": ["fy","fo","my","mo"], "range": ["#E5171F","#ffffff","#1DA7DF","#ffffff"]}},
           "stroke": {"field": "g", "type": "nominal", "scale": {"domain": ["fy","fo","my","mo"], "range": ["#E5171F","#E5171F","#1DA7DF","#5BC5EE"]}}
         }},
        {"mark": {"type": "text", "align": "left", "baseline": "middle", "dx": 24.5, "fontSize": 16, "color": "#111"},
         "encoding": {"text": {"field": "lab"}}}
      ]
    }
  ],
  "config": {
    "font": "Liberation Sans",
    "background": "#ffffff",
    "view": {"stroke": null},
    "legend": {"disable": true},
    "axis": {"domainColor": "#000", "domainWidth": 2, "tickColor": "#000", "tickWidth": 2, "tickSize": 7, "labelColor": "#000", "labelFontSize": 14, "labelFontWeight": "bold", "labelFont": "Liberation Sans", "titleFont": "Liberation Sans", "titleFontSize": 15, "titleFontWeight": "bold", "titleColor": "#000", "grid": false, "labelPadding": 2, "titlePadding": 6, "labelFlush": false, "labelOverlap": false},
    "axisX": {"titlePadding": 11, "labelFont": "Noto Sans", "labelFontSize": 13.5},
    "title": {"fontSize": 17.5, "fontWeight": "bold", "font": "Liberation Sans", "subtitleFont": "Liberation Sans", "subtitleFontSize": 17, "subtitleFontWeight": "normal", "subtitleColor": "#000", "color": "#000", "anchor": "middle", "frame": "group", "offset": 14, "subtitlePadding": 4}
  }
}
